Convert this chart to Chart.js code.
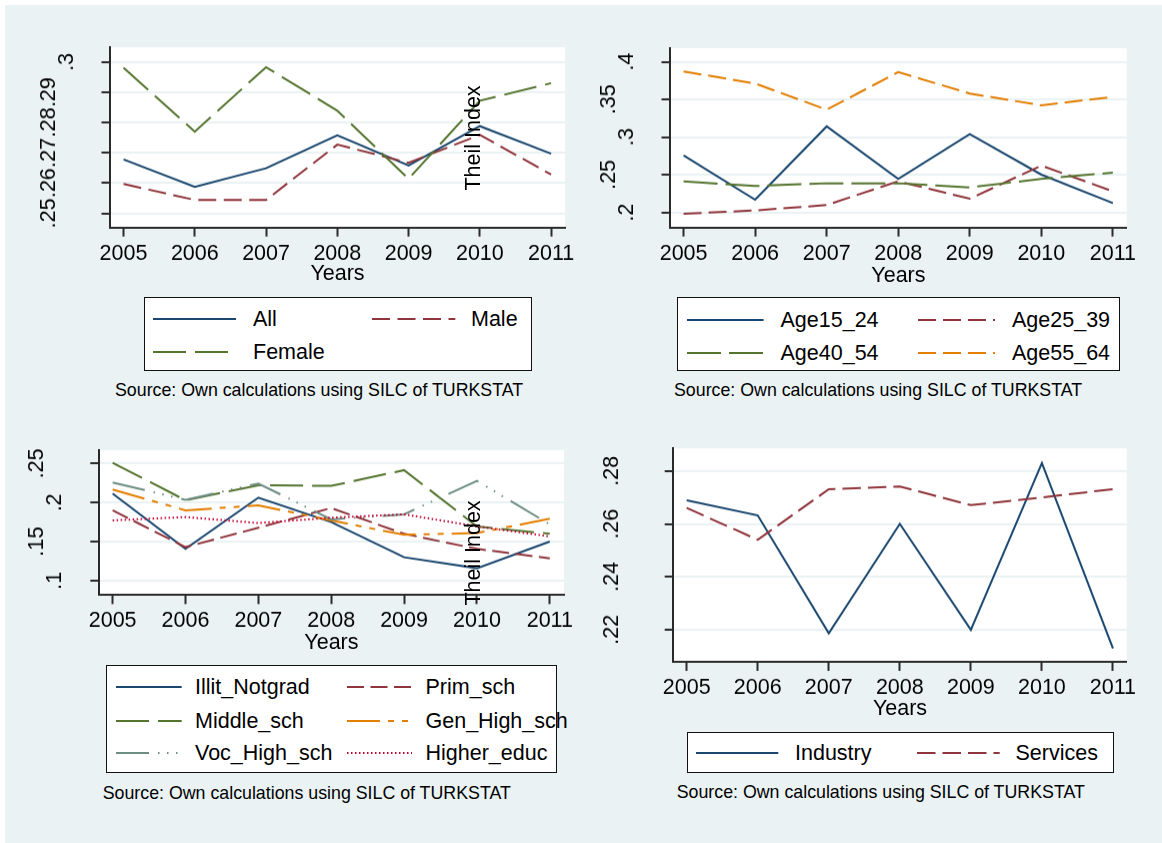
<!DOCTYPE html>
<html><head><meta charset="utf-8">
<script src="https://cdn.jsdelivr.net/npm/chart.js@4.4.1/dist/chart.umd.min.js"></script>
<style>
html,body{margin:0;padding:0;background:#fff;}
body{width:1162px;height:843px;position:relative;overflow:hidden;font-family:"Liberation Sans",Arial,Helvetica,sans-serif;}
#bg{position:absolute;left:5px;top:5px;right:0;bottom:0;background:#eaf2f3;}
.panel{position:absolute;}
.legend{position:absolute;background:#fff;border:1.5px solid #111;box-sizing:border-box;}
.lab{position:absolute;font-size:21.5px;line-height:24px;white-space:nowrap;color:#000;}
.src{position:absolute;font-size:17.8px;line-height:20px;white-space:nowrap;color:#000;}
.ytl{position:absolute;font-size:21.5px;line-height:24px;white-space:nowrap;color:#000;transform:translate(-50%,-50%) rotate(-90deg);}
svg.smp{position:absolute;overflow:visible;}
</style>
</head><body>
<div id="bg"></div>
<script>
// ---------- data ----------
const years = [2005, 2006, 2007, 2008, 2009, 2010, 2011];
const yearLabels = ['2005', '2006', '2007', '2008', '2009', '2010', '2011'];

// Panel 1: gender
const genderAll    = [0.2678, 0.2587, 0.2649, 0.2758, 0.2658, 0.2788, 0.2697];
const genderMale   = [0.2597, 0.2544, 0.2544, 0.2727, 0.2667, 0.2759, 0.2628];
const genderFemale = [0.2981, 0.2770, 0.2983, 0.2839, 0.2614, 0.2872, 0.2930];
const genderTicks = [0.25, 0.26, 0.27, 0.28, 0.29, 0.30];
const genderTickLabels = ['.25', '.26', '.27', '.28', '.29', '.3'];

// Panel 2: age groups
const age15_24 = [0.2756, 0.2169, 0.3142, 0.2444, 0.3040, 0.2502, 0.2124];
const age25_39 = [0.1982, 0.2027, 0.2098, 0.2413, 0.2182, 0.2622, 0.2280];
const age40_54 = [0.2413, 0.2351, 0.2387, 0.2387, 0.2333, 0.2444, 0.2529];
const age55_64 = [0.3871, 0.3711, 0.3364, 0.3862, 0.3578, 0.3422, 0.3533];
const ageTicks = [0.20, 0.25, 0.30, 0.35, 0.40];
const ageTickLabels = ['.2', '.25', '.3', '.35', '.4'];

// Panel 3: education
const eduIllit  = [0.2114, 0.1407, 0.2063, 0.1750, 0.1300, 0.1159, 0.1501];
const eduPrim   = [0.1900, 0.1429, 0.1677, 0.1930, 0.1600, 0.1407, 0.1287];
const eduMiddle = [0.2509, 0.2029, 0.2221, 0.2213, 0.2414, 0.1694, 0.1600];
const eduGenHigh= [0.2166, 0.1900, 0.1964, 0.1771, 0.1587, 0.1609, 0.1793];
const eduVocHigh= [0.2256, 0.2035, 0.2243, 0.1784, 0.1849, 0.2277, 0.1720];
const eduHigher = [0.1771, 0.1814, 0.1737, 0.1806, 0.1849, 0.1694, 0.1566];
const eduTicks = [0.10, 0.15, 0.20, 0.25];
const eduTickLabels = ['.1', '.15', '.2', '.25'];

// Panel 4: sectors
const secIndustry = [0.2689, 0.2632, 0.2187, 0.2600, 0.2200, 0.2830, 0.2130];
const secServices = [0.2660, 0.2540, 0.2731, 0.2741, 0.2671, 0.2700, 0.2731];
const secTicks = [0.22, 0.24, 0.26, 0.28];
const secTickLabels = ['.22', '.24', '.26', '.28'];

const sourceText = 'Source: Own calculations using SILC of TURKSTAT';
const xTitle = 'Years';
const yTitle = 'Theil Index';

// ---------- styles / layout ----------
const COL = {navy:'#1a476f', maroon:'#90353b', green:'#55752f', orange:'#e37e00', teal:'#6e8e84', cran:'#c10534'};
const FONT = '"Liberation Sans", Arial, Helvetica, sans-serif';
const FS = 21.5;
Chart.defaults.font.family = FONT;
Chart.defaults.color = '#000';

const panels = [
  { box:{L:5, T:5, W:575}, area:{l:110, t:47, r:565, b:226.7}, titleY:273,
    ymin:0.2453, ymax:0.3049, ticks:genderTicks, tickLabels:genderTickLabels,
    series:[
      {label:'All', data:genderAll, color:COL.navy, dash:[]},
      {label:'Male', data:genderMale, color:COL.maroon, dash:[18,7.5]},
      {label:'Female', data:genderFemale, color:COL.green, dash:[33,9]}],
    legend:{box:[144.3,297.3,531.7,371], rows:[319.3,351.7], cols:[[153,236,253],[371.7,455,471]]},
    source:{x:115, y:390}, theil:{x:473, y:138} },
  { box:{L:582, T:5, W:576}, area:{l:670, t:48, r:1126.8, b:226.7}, titleY:275,
    ymin:0.18, ymax:0.418, ticks:ageTicks, tickLabels:ageTickLabels,
    series:[
      {label:'Age15_24', data:age15_24, color:COL.navy, dash:[]},
      {label:'Age25_39', data:age25_39, color:COL.maroon, dash:[18,7]},
      {label:'Age40_54', data:age40_54, color:COL.green, dash:[34,8]},
      {label:'Age55_64', data:age55_64, color:COL.orange, dash:[18,7]}],
    legend:{box:[676.7,297.3,1120,371], rows:[320,352.7], cols:[[686.7,763.3,780.5],[918,995,1012]]},
    source:{x:674, y:390}, theil:null },
  { box:{L:5, T:420, W:575}, area:{l:98.8, t:450, r:564, b:594.3}, titleY:641.7,
    ymin:0.0816, ymax:0.267, ticks:eduTicks, tickLabels:eduTickLabels,
    series:[
      {label:'Illit_Notgrad', data:eduIllit, color:COL.navy, dash:[]},
      {label:'Prim_sch', data:eduPrim, color:COL.maroon, dash:[17,6.5]},
      {label:'Middle_sch', data:eduMiddle, color:COL.green, dash:[33,9]},
      {label:'Gen_High_sch', data:eduGenHigh, color:COL.orange, dash:[33,8,6,8,6,8]},
      {label:'Voc_High_sch', data:eduVocHigh, color:COL.teal, dash:[33,9,1.5,7.5,1.5,7.5,1.5,9]},
      {label:'Higher_educ', data:eduHigher, color:COL.cran, dash:[1.5,2.5]}],
    legend:{box:[105.7,665,556.7,773.3], rows:[687.3,720.7,753.3], cols:[[116,181.7,195],[346.7,411.7,425.5]]},
    source:{x:102.7, y:793.3}, theil:{x:473, y:553} },
  { box:{L:582, T:420, W:576}, area:{l:673.2, t:448.3, r:1126.8, b:661}, titleY:708,
    ymin:0.2079, ymax:0.2885, ticks:secTicks, tickLabels:secTickLabels,
    series:[
      {label:'Industry', data:secIndustry, color:COL.navy, dash:[]},
      {label:'Services', data:secServices, color:COL.maroon, dash:[18.5,7]}],
    legend:{box:[686.7,732.3,1114,773.3], rows:[753.3], cols:[[696,778.3,795],[917.3,1000,1015.5]]},
    source:{x:676.7, y:791.7}, theil:null }
];

const X_MIN = 2004.81, X_MAX = 2011.195;
const TITLE_PB = 3;
const AXIS = '#2a2a2a';

const plotBg = { id:'plotBg', beforeDraw(c){ const {ctx, chartArea:a} = c; ctx.save(); ctx.fillStyle='#fff'; ctx.fillRect(a.left, a.top, a.right-a.left, a.bottom-a.top); ctx.restore(); } };

function place(el, x, y){ el.style.left = x+'px'; el.style.top = y+'px'; document.body.appendChild(el); return el; }

function buildChart(p){
  const lh = FS * 1.2;
  const H = p.titleY + lh/2 + TITLE_PB - p.box.T;
  const div = document.createElement('div');
  div.className = 'panel';
  div.style.width = p.box.W+'px'; div.style.height = H+'px';
  place(div, p.box.L, p.box.T);
  const cv = document.createElement('canvas');
  div.appendChild(cv);
  const yW = p.area.l - p.box.L;
  const xH = p.box.T + H - p.area.b;
  const n = p.series.length;
  new Chart(cv, {
    type:'line',
    data:{ datasets: p.series.map((s,i)=>({
      label:s.label,
      data: years.map((x,k)=>({x, y:s.data[k]})),
      borderColor:s.color, backgroundColor:s.color, borderWidth:2, borderDash:s.dash,
      borderCapStyle:'butt', pointRadius:0, pointHoverRadius:0, tension:0, fill:false, order:n-i
    }))},
    options:{
      responsive:true, maintainAspectRatio:false, animation:false, devicePixelRatio:1, events:[],
      layout:{ autoPadding:false, padding:{ left:0, top:p.area.t-p.box.T, right:p.box.L+p.box.W-p.area.r, bottom:0 } },
      plugins:{ legend:{display:false}, tooltip:{enabled:false} },
      scales:{
        x:{ type:'linear', min:X_MIN, max:X_MAX,
          afterBuildTicks:s=>{ s.ticks = years.map(v=>({value:v})); },
          ticks:{ autoSkip:false, maxRotation:0, minRotation:0, padding:26 - 9 - lh/2, color:'#000', font:{size:FS},
                  callback:(v,i)=>yearLabels[i] },
          grid:{ drawOnChartArea:false, drawTicks:true, tickLength:9, tickColor:AXIS, tickWidth:2 },
          border:{ display:true, color:AXIS, width:2 },
          title:{ display:true, text:xTitle, color:'#000', font:{size:FS}, padding:{top:0, bottom:TITLE_PB} },
          afterFit:s=>{ s.height = xH; s.paddingLeft = 0; s.paddingRight = 0; }
        },
        y:{ type:'linear', min:p.ymin, max:p.ymax,
          afterBuildTicks:s=>{ s.ticks = p.ticks.map(v=>({value:v})); },
          ticks:{ autoSkip:false, minRotation:90, maxRotation:90, crossAlign:'center', padding:37.8, color:'#000',
                  font:{size:FS, lineHeight:36/FS},
                  callback:(v,i)=>{ const t = p.tickLabels[i]; return t.length < 3 ? ['', t] : t; } },
          grid:{ color:'#eaf2f3', lineWidth:2, drawTicks:true, tickLength:8.5, tickColor:AXIS, tickWidth:2 },
          border:{ display:true, color:AXIS, width:2 },
          afterFit:s=>{ s.width = yW; s.paddingTop = 0; s.paddingBottom = 0; }
        }
      }
    },
    plugins:[plotBg]
  });
}

const NS = 'http://www.w3.org/2000/svg';
function buildLegend(p){
  const [x1,y1,x2,y2] = p.legend.box;
  const box = document.createElement('div');
  box.className = 'legend';
  box.style.width = (x2-x1)+'px'; box.style.height = (y2-y1)+'px';
  place(box, x1, y1);
  p.series.forEach((s,k)=>{
    const r = Math.floor(k/2), c = k%2;
    const y = p.legend.rows[r];
    const [sx1, sx2, tx] = p.legend.cols[c];
    const w = sx2 - sx1;
    const svg = document.createElementNS(NS,'svg');
    svg.setAttribute('class','smp'); svg.setAttribute('width', w); svg.setAttribute('height', 6);
    const ln = document.createElementNS(NS,'line');
    ln.setAttribute('x1',0); ln.setAttribute('y1',3); ln.setAttribute('x2',w); ln.setAttribute('y2',3);
    ln.setAttribute('stroke', s.color); ln.setAttribute('stroke-width', 2);
    if (s.dash.length) ln.setAttribute('stroke-dasharray', s.dash.join(' '));
    svg.appendChild(ln);
    svg.style.left = sx1+'px'; svg.style.top = (y-3)+'px';
    document.body.appendChild(svg);
    const t = document.createElement('div');
    t.className = 'lab'; t.textContent = s.label;
    place(t, tx, y-12);
  });
  const src = document.createElement('div');
  src.className = 'src'; src.textContent = sourceText;
  place(src, p.source.x, p.source.y-10);
  if (p.theil){
    const th = document.createElement('div');
    th.className = 'ytl'; th.textContent = yTitle;
    place(th, p.theil.x, p.theil.y);
  }
}

panels.forEach(p=>{ buildChart(p); });
panels.forEach(p=>{ buildLegend(p); });
</script>
</body></html>
